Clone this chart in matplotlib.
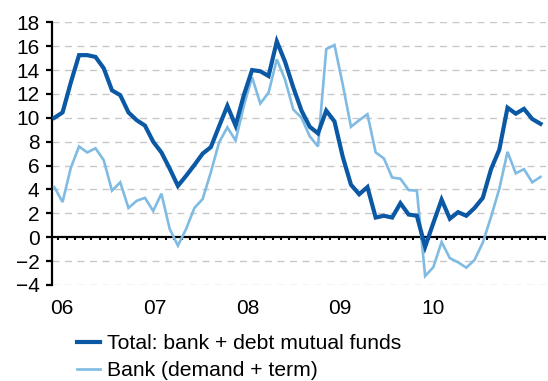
import numpy as np
import matplotlib
matplotlib.use("Agg")
import matplotlib.pyplot as plt

plt.rcParams['font.family'] = ['Liberation Sans', 'DejaVu Sans']

# Monthly growth rates, Jan 2006 - Dec 2010 (% y/y)
total = [10.0, 10.45, 12.95, 15.25, 15.25, 15.1, 14.15, 12.3, 11.9, 10.45, 9.8, 9.35,
         8.0, 7.1, 5.75, 4.3, 5.15, 6.05, 7.0, 7.55, 9.3, 11.0, 9.35, 11.9,
         14.0, 13.9, 13.5, 16.4, 14.7, 12.55, 10.6, 9.25, 8.7, 10.6, 9.7, 6.75,
         4.4, 3.6, 4.2, 1.65, 1.8, 1.65, 2.85, 1.9, 1.8, -0.8, 1.2, 3.15,
         1.55, 2.1, 1.8, 2.45, 3.3, 5.7, 7.33, 10.85, 10.35, 10.75, 9.9, 9.5]
bank = [4.2, 2.95, 5.8, 7.6, 7.1, 7.45, 6.45, 3.9, 4.6, 2.45, 3.05, 3.3,
        2.2, 3.65, 0.7, -0.7, 0.7, 2.45, 3.2, 5.45, 7.95, 9.2, 8.1, 11.0,
        13.4, 11.2, 12.1, 14.9, 13.2, 10.7, 10.0, 8.45, 7.6, 15.75, 16.1, 12.8,
        9.25, 9.8, 10.3, 7.1, 6.6, 5.0, 4.9, 3.95, 3.9, -3.25, -2.5, -0.4,
        -1.75, -2.1, -2.55, -1.9, -0.45, 1.7, 4.05, 7.15, 5.35, 5.7, 4.6, 5.05]
year_labels = ["06", "07", "08", "09", "10"]
series_names = ["Total: bank + debt mutual funds", "Bank (demand + term)"]

dark = "#0b58a4"
light = "#7fbbe2"

x = np.arange(len(total))

fig = plt.figure(figsize=(5.48, 3.81), dpi=100)
ax = fig.add_axes([52 / 548, 1 - 285 / 381, 494 / 548, 262.7 / 381])

ax.set_xlim(-0.28, len(total) - 1 + 0.67)
ax.set_ylim(-4, 18)

# dashed horizontal grid
for v in range(-4, 19, 2):
    if v != 0:
        ax.axhline(v, color="#c8c8c8", lw=1.0, ls=(0, (5, 4)), zorder=1)

# zero line with monthly tick marks between observations
ax.axhline(0, color="black", lw=1.6, zorder=2)
for t in x + 0.5:
    ax.plot([t, t], [0, -0.25], color="black", lw=1.5, zorder=2, solid_capstyle="butt")

l1, = ax.plot(x, total, color=dark, lw=3.0, zorder=4, solid_joinstyle="miter")
l2, = ax.plot(x, bank, color=light, lw=1.9, zorder=3, solid_joinstyle="miter")

for s in ["top", "right", "bottom"]:
    ax.spines[s].set_visible(False)
ax.spines["left"].set_linewidth(1.6)
ax.set_yticks(range(-4, 19, 2))
ax.tick_params(axis="y", length=4, width=1.6, pad=5, labelsize=15)

ax.set_xticks([])
label_pos = [0.95, 12.2, 23.45, 34.7, 46.0]
for p, lab in zip(label_pos, year_labels):
    ax.text(p, -5.15, lab, ha="center", va="top", fontsize=15)

leg = fig.legend([l1, l2], series_names, loc="upper left",
                 bbox_to_anchor=(77 / 548, 1 - 334 / 381), frameon=False,
                 fontsize=15.2, handlelength=1.1, handletextpad=0.3,
                 labelspacing=0.38, borderaxespad=0, borderpad=0)

fig.savefig("out.png", dpi=100)
